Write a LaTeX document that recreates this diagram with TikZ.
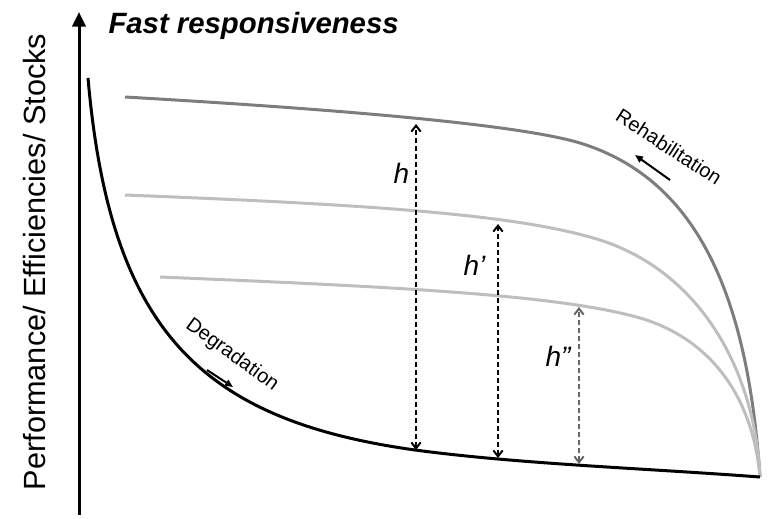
\documentclass[tikz,border=0pt]{standalone}
\usepackage{fontspec}
\setmainfont{Liberation Sans}
\usetikzlibrary{arrows.meta}

\tikzset{every picture/.style={line width=0.75pt}}
\tikzset{
  hlabel/.style={inner sep=0pt,anchor=base west,font=\fontsize{21}{24}\selectfont\itshape},
  curvelabel/.style={inner sep=0pt,anchor=center,font=\fontsize{15}{18}\selectfont},
  gaparrow/.style={dash pattern={on 3.75pt off 2.25pt},line width=1.5pt,
    {Straight Barb[length=4.5pt,width=7pt]}-{Straight Barb[length=4.5pt,width=7pt]}},
  trendarrow/.style={line width=1.5pt,-{Triangle[length=6pt,width=5pt]}}
}

\begin{document}
\begin{tikzpicture}[x=0.75pt,y=0.75pt,yscale=-1,xscale=1]
\path[use as bounding box] (0,0) rectangle (771,518);

%Axis
\coordinate (axisbot) at (79,515);
\coordinate (axistop) at (79,12);
\draw [line width=2.25pt,-{Triangle[length=11pt,width=10pt]}] (axisbot) -- (axistop);

%Curve: upper (rehabilitation)
\draw [color={rgb, 255:red, 125; green, 125; blue, 125 },line width=2.25pt] (125,97) .. controls (350,110) and (520,125) .. (580,143) .. controls (700,180) and (748,300) .. (760,477) ;
%Curve: middle
\draw [color={rgb, 255:red, 190; green, 190; blue, 190 },line width=2.25pt] (125,195) .. controls (380,205) and (520,215) .. (600,240) .. controls (700,272) and (755,370) .. (760,477) ;
%Curve: lower
\draw [color={rgb, 255:red, 190; green, 190; blue, 190 },line width=2.25pt] (160,277) .. controls (400,287) and (560,295) .. (640,318) .. controls (705,337) and (752,390) .. (760,477) ;
%Curve: degradation
\draw [line width=2.25pt] (88,78) .. controls (110,330) and (200,420) .. (415,450) .. controls (520,464) and (640,468) .. (760,477) ;

%Gaps
\coordinate (htop) at (416,124);
\coordinate (hbot) at (416,450);
\coordinate (hptop) at (498,224);
\coordinate (hpbot) at (498,458);
\coordinate (hpptop) at (579,307);
\coordinate (hppbot) at (579,464);
\draw [gaparrow] (hbot) -- (htop) ;
\draw [gaparrow] (hpbot) -- (hptop) ;
\draw [gaparrow,color={rgb, 255:red, 100; green, 100; blue, 100 }] (hppbot) -- (hpptop) ;

%Trend arrows
\coordinate (rehabstart) at (670,180);
\coordinate (rehabend) at (635,155);
\coordinate (degstart) at (207,370);
\coordinate (degend) at (233,387);
\draw [trendarrow] (rehabstart) -- (rehabend) ;
\draw [trendarrow] (degstart) -- (degend) ;

% Text Node
\node (title) at (108,33) [anchor=base west,inner sep=0pt] {\fontsize{22}{26}\selectfont\bfseries\itshape Fast responsiveness};
% Text Node
\node (ylabel) at (45,262) [anchor=base,rotate=90,inner sep=0pt] {\fontsize{23}{26}\selectfont Performance/ Efficiencies/ Stocks};
% Text Node
\node (hlab) at (393,183) [hlabel] {h};
% Text Node
\node (hplab) at (463,275) [hlabel] {h'};
% Text Node
\node (hpplab) at (545,366) [hlabel] {h''};
% Text Node
\node (rehab) at (669,147) [curvelabel,rotate=-33] {Rehabilitation};
% Text Node
\node (degrad) at (232,355) [curvelabel,rotate=-36] {Degradation};

\end{tikzpicture}
\end{document}
